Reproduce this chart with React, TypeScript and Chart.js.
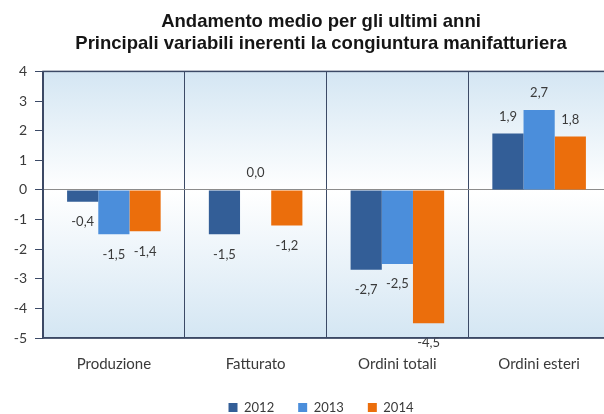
import React, { useEffect, useRef } from "react";
import { Chart, registerables } from "chart.js";

Chart.register(...registerables);

const categories = ["Produzione", "Fatturato", "Ordini totali", "Ordini esteri"];
const seriesLabels = ["2012", "2013", "2014"];
const values2012 = [-0.4, -1.5, -2.7, 1.9];
const values2013 = [-1.5, 0.0, -2.5, 2.7];
const values2014 = [-1.4, -1.2, -4.5, 1.8];
const yTicks = [4, 3, 2, 1, 0, -1, -2, -3, -4, -5];
const titleLines = [
  "Andamento medio per gli ultimi anni",
  "Principali variabili inerenti la congiuntura manifatturiera",
];

const colors = ["#335e97", "#4b8edb", "#eb6e0c"];
const frameColor = "#3c4a66";
const textColor = "#3a3a3a";
const uiFont = "Lato, 'Open Sans', sans-serif";

const bgPlugin = {
  id: "bgPlugin",
  beforeDraw(chart: any) {
    const { ctx, chartArea: a } = chart;
    const g = ctx.createLinearGradient(0, a.top, 0, a.bottom);
    g.addColorStop(0, "#d4e6f3");
    g.addColorStop(0.45, "#ffffff");
    g.addColorStop(1, "#d4e6f3");
    ctx.save();
    ctx.fillStyle = g;
    ctx.fillRect(a.left, a.top, a.right - a.left, a.bottom - a.top);
    ctx.restore();
  },
  afterDraw(chart: any) {
    const { ctx, chartArea: a } = chart;
    ctx.save();
    ctx.strokeStyle = frameColor;
    ctx.lineWidth = 1.5;
    ctx.strokeRect(a.left, a.top, a.right - a.left, a.bottom - a.top);
    ctx.restore();
  },
};

const labelPlugin = {
  id: "labelPlugin",
  afterDatasetsDraw(chart: any) {
    const { ctx } = chart;
    const yScale = chart.scales.y;
    ctx.save();
    ctx.font = `13px ${uiFont}`;
    ctx.fillStyle = textColor;
    ctx.textAlign = "center";
    ctx.textBaseline = "middle";
    chart.data.datasets.forEach((ds: any, di: number) => {
      const meta = chart.getDatasetMeta(di);
      meta.data.forEach((el: any, i: number) => {
        const v = ds.data[i];
        const py = yScale.getPixelForValue(v);
        const y = v >= 0 ? py - 17 : py + 20;
        ctx.fillText(v.toFixed(1).replace(".", ","), el.x, y);
      });
    });
    ctx.restore();
  },
};

export default function App() {
  const ref = useRef<HTMLCanvasElement>(null);
  useEffect(() => {
    if (!ref.current) return;
    const allSeries = [values2012, values2013, values2014];
    const chart = new Chart(ref.current, {
      type: "bar",
      data: {
        labels: categories,
        datasets: seriesLabels.map((l, i) => ({
          label: l,
          data: allSeries[i],
          backgroundColor: colors[i],
          borderWidth: 0,
          barPercentage: 1.0,
          categoryPercentage: 0.66,
        })),
      },
      options: {
        animation: false,
        responsive: false,
        maintainAspectRatio: false,
        layout: { padding: { left: 10, right: 0, top: 0, bottom: 0 } },
        plugins: {
          title: {
            display: true,
            text: titleLines,
            color: "#151515",
            font: { family: "'Liberation Sans', Arial, sans-serif", size: 18.5, weight: "bold", lineHeight: 1.2 },
            padding: { top: 11, bottom: 16 },
          },
          legend: {
            position: "bottom",
            labels: {
              boxWidth: 9,
              boxHeight: 9,
              padding: 24,
              color: textColor,
              font: { family: uiFont, size: 13 },
            },
          },
          tooltip: { enabled: false },
        },
        scales: {
          x: {
            afterFit(scale: any) {
              scale.height = 39;
            },
            grid: { color: frameColor, lineWidth: 1, drawTicks: false, offset: true },
            border: { display: true, color: frameColor, width: 1.5 },
            ticks: { color: textColor, font: { family: uiFont, size: 15 }, padding: 17 },
          },
          y: {
            min: -5,
            max: 4,
            afterFit(scale: any) {
              scale.width = 33;
            },
            afterBuildTicks(scale: any) {
              scale.ticks = yTicks.map((v) => ({ value: v }));
            },
            grid: {
              color: (ctx: any) => (ctx.tick && ctx.tick.value === 0 ? "#8c8c8c" : "rgba(0,0,0,0)"),
              tickColor: frameColor,
              tickLength: 8,
              lineWidth: 1,
            },
            border: { display: true, color: frameColor, width: 1.5 },
            ticks: { color: textColor, font: { family: uiFont, size: 14 }, padding: 8 },
          },
          spacer: {
            type: "linear",
            position: "right",
            display: true,
            afterFit(scale: any) {
              scale.width = 22;
            },
            grid: { display: false },
            ticks: { display: false },
            border: { display: false },
          },
        },
      },
      plugins: [bgPlugin, labelPlugin],
    });
    return () => chart.destroy();
  }, []);
  return (
    <div style={{ position: "fixed", left: 0, top: 0, width: 604, height: 414, overflow: "hidden", background: "#ffffff" }}>
      <canvas ref={ref} width={632} height={424} style={{ display: "block", width: 632, height: 424 }} />
    </div>
  );
}
